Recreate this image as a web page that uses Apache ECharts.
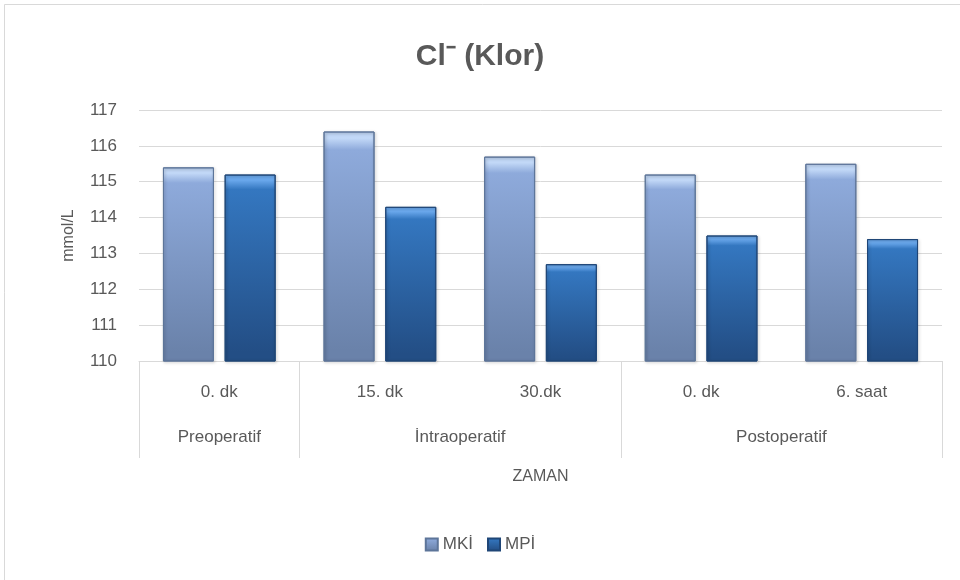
<!DOCTYPE html>
<html>
<head>
<meta charset="utf-8">
<script src="https://cdn.jsdelivr.net/npm/echarts@6/dist/echarts.min.js"></script>
<style>
  html, body { margin: 0; padding: 0; background: #fff; }
  #chart { width: 960px; height: 580px; }
</style>
</head>
<body>
<div id="chart"></div>
<script>
  // veriler
  var categories = ['0. dk', '15. dk', '30.dk', '0. dk', '6. saat'];
  var groups = ['Preoperatif', 'İntraoperatif', 'Postoperatif'];
  var groupSpans = [1, 2, 2];
  var mkiValues = [115.4, 116.4, 115.7, 115.2, 115.5];
  var mpiValues = [115.2, 114.3, 112.7, 113.5, 113.4];
  var seriesNames = ['MKİ', 'MPİ'];

  var textColor = '#595959';
  var font = 'Liberation Sans';

  // grup sinirlari ve ortalari
  var bounds = [0];
  var centers = [];
  groupSpans.forEach(function (s) {
    var start = bounds[bounds.length - 1];
    centers.push(start + s / 2);
    bounds.push(start + s);
  });

  function barGradient(light, top, bottom) {
    return {
      type: 'linear', x: 0, y: 0, x2: 0, y2: 1,
      colorStops: [
        { offset: 0, color: light },
        { offset: 0.03, color: light },
        { offset: 0.08, color: top },
        { offset: 0.95, color: bottom },
        { offset: 1, color: bottom }
      ]
    };
  }

  var myChart = echarts.init(document.getElementById('chart'));
  var chartOption = {
    backgroundColor: '#fff',
    textStyle: { fontFamily: font },
    graphic: [{
      type: 'rect',
      shape: { x: 4.5, y: 4.5, width: 965, height: 590 },
      style: { fill: 'none', stroke: '#d9d9d9', lineWidth: 1 }
    }],
    title: {
      text: 'Cl⁻ (Klor)',
      left: 'center',
      top: 37,
      textStyle: { color: textColor, fontSize: 30, fontWeight: 'bold', fontFamily: font }
    },
    legend: {
      data: seriesNames,
      bottom: 22,
      left: 'center',
      itemWidth: 12,
      itemHeight: 12,
      itemGap: 14,
      icon: 'rect',
      textStyle: { color: textColor, fontSize: 17 }
    },
    grid: { left: 139, right: 18, top: 110, bottom: 219 },
    xAxis: [{
      type: 'category',
      data: categories,
      name: 'ZAMAN',
      nameLocation: 'middle',
      nameGap: 108,
      nameTextStyle: { color: textColor, fontSize: 16 },
      axisLine: { lineStyle: { color: '#d9d9d9' } },
      axisTick: { show: false },
      axisLabel: { color: textColor, fontSize: 17, margin: 23 }
    }, {
      type: 'value',
      position: 'bottom',
      min: 0,
      max: categories.length,
      axisLine: { show: false },
      splitLine: { show: false },
      axisTick: {
        show: true,
        customValues: bounds,
        length: 97,
        lineStyle: { color: '#d9d9d9' }
      },
      axisLabel: {
        color: textColor,
        fontSize: 17,
        margin: 68,
        customValues: centers,
        formatter: function (v) {
          var i = centers.indexOf(v);
          return i >= 0 ? groups[i] : '';
        }
      }
    }],
    yAxis: {
      type: 'value',
      min: 110,
      max: 117,
      interval: 1,
      name: 'mmol/L',
      nameLocation: 'middle',
      nameGap: 62,
      nameRotate: 90,
      nameTextStyle: { color: textColor, fontSize: 16 },
      axisLine: { show: false },
      axisTick: { show: false },
      axisLabel: { color: textColor, fontSize: 17, margin: 22 },
      splitLine: { lineStyle: { color: '#d9d9d9' } }
    },
    series: [{
      name: seriesNames[0],
      type: 'bar',
      data: mkiValues,
      barWidth: 51,
      barGap: '21%',
      itemStyle: {
        color: barGradient('#c2d8f7', '#8eaadb', '#6a82aa'),
        borderColor: '#5d7599',
        borderWidth: 1,
        shadowColor: 'rgba(0,0,0,0.25)',
        shadowBlur: 3,
        shadowOffsetX: 1,
        shadowOffsetY: 1
      }
    }, {
      name: seriesNames[1],
      type: 'bar',
      data: mpiValues,
      barWidth: 51,
      itemStyle: {
        color: barGradient('#6aa8ec', '#3477c0', '#234e85'),
        borderColor: '#1f4677',
        borderWidth: 1,
        shadowColor: 'rgba(0,0,0,0.25)',
        shadowBlur: 3,
        shadowOffsetX: 1,
        shadowOffsetY: 1
      }
    }]
  };
  myChart.setOption(chartOption);
</script>
</body>
</html>
